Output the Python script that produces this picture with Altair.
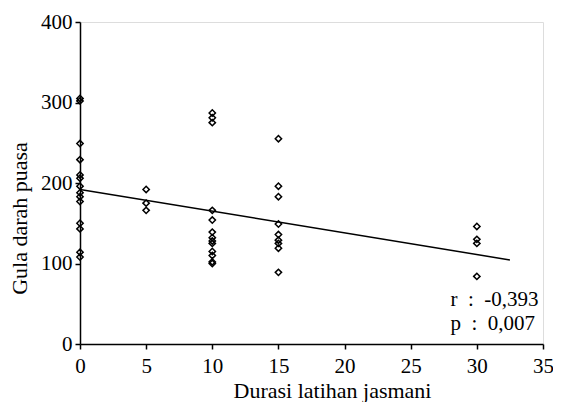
import altair as alt
import pandas as pd

# Scatter data (duration of exercise vs fasting blood glucose)
dur_0 = [305, 302, 249, 229, 210, 206, 196, 188, 183, 177, 150, 143, 114, 108]
dur_5 = [192, 175, 166]
dur_10 = [287, 281, 275, 166, 154, 139, 132, 128, 125, 115, 110, 102, 100]
dur_15 = [255, 196, 183, 149, 136, 129, 125, 119, 89]
dur_30 = [146, 130, 125, 84]

# Regression line end points
line_x = [0, 32.5]
line_y = [192, 104.4]

# Annotation
NB = "\u00a0"
ann_text = ["r" + NB * 2 + ":" + NB * 2 + "-0,393", "p" + NB * 2 + ":" + NB * 2 + "0,007"]
ann_x = [28.0, 28.0]
ann_y = [47, 18]

x_ticks = [0, 5, 10, 15, 20, 25, 30, 35]
y_ticks = [0, 100, 200, 300, 400]

rows = []
for d, vals in [(0, dur_0), (5, dur_5), (10, dur_10), (15, dur_15), (30, dur_30)]:
    for v in vals:
        rows.append({"x": d, "y": v})
pts = pd.DataFrame(rows)
line_df = pd.DataFrame({"x": line_x, "y": line_y})
ann_df = pd.DataFrame({"t": ann_text, "x": ann_x, "y": ann_y})

FONT = "Liberation Serif"

xs = alt.Scale(domain=[0, 35], nice=False, zero=False)
ys = alt.Scale(domain=[0, 400], nice=False)

xaxis = alt.Axis(values=x_ticks, title="Durasi latihan jasmani", grid=False,
                 labelFont=FONT, labelFontSize=21, labelColor="black",
                 titleFont=FONT, titleFontSize=22, titleFontWeight="normal", titleColor="black",
                 domainColor="black", domainWidth=1.5, tickColor="black", tickWidth=1.5,
                 tickSize=5, labelPadding=6, titleX=252, titleY=53, titleBaseline="alphabetic",
                 titleAnchor="start", titleAlign="center", labelFlush=False)
yaxis = alt.Axis(values=y_ticks, title="Gula darah puasa", grid=False,
                 labelFont=FONT, labelFontSize=21, labelColor="black",
                 titleFont=FONT, titleFontSize=22, titleFontWeight="normal", titleColor="black",
                 domainColor="black", domainWidth=1.5, tickColor="black", tickWidth=1.5,
                 tickSize=5, labelPadding=3, titleX=-54, titleY=196, titleAngle=270,
                 titleBaseline="alphabetic", titleAlign="center", titleAnchor="start",
                 labelFlush=False)

points = alt.Chart(pts).mark_point(shape="diamond", filled=False, color="black",
                                   size=40, strokeWidth=1.5, opacity=1).encode(
    x=alt.X("x:Q", scale=xs, axis=xaxis),
    y=alt.Y("y:Q", scale=ys, axis=yaxis),
)

line = alt.Chart(line_df).mark_line(color="black", strokeWidth=1.5).encode(
    x=alt.X("x:Q", scale=xs),
    y=alt.Y("y:Q", scale=ys),
)

ann = alt.Chart(ann_df).mark_text(font=FONT, fontSize=21, color="black", align="left",
                                  baseline="alphabetic").encode(
    x=alt.X("x:Q", scale=xs),
    y=alt.Y("y:Q", scale=ys),
    text="t:N",
)

chart = alt.layer(points, line, ann).properties(
    width=463, height=322,
    autosize=alt.AutoSizeParams(type="none"),
    padding={"left": 72, "top": 14, "right": 10, "bottom": 58},
).configure_view(stroke=None).configure(background="white")

chart.save("out.html", embed_options={"renderer": "svg", "actions": False})
